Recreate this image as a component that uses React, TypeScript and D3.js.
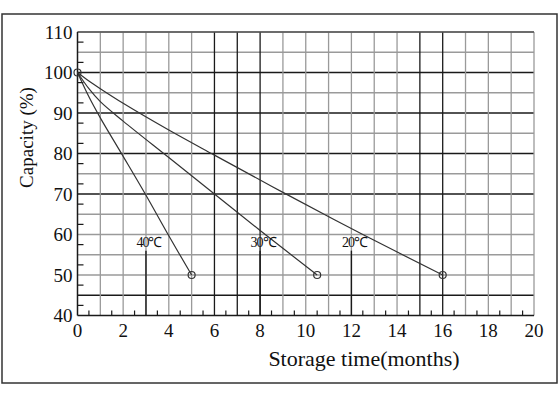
import React from "react";
import * as d3 from "d3";

const monthTicks = [0, 2, 4, 6, 8, 10, 12, 14, 16, 18, 20];
const capacityTicks = [40, 50, 60, 70, 80, 90, 100, 110];

const series40: [number, number][] = [[0, 100], [0.5, 94], [1, 88.8], [2, 79.3], [3, 69.7], [4, 59.7], [5, 50]];
const series30: [number, number][] = [[0, 100], [0.5, 96], [1, 92.8], [2, 88], [4, 79], [6, 70], [8, 61], [10.5, 50]];
const series20: [number, number][] = [[0, 100], [0.5, 97.9], [1, 96], [2, 92.4], [4, 85.8], [6, 79.6], [9, 70.4], [12.5, 60], [16, 50]];

const seriesNames = ["40℃", "30℃", "20℃"];
const labelMonths = [3, 8, 12];
const labelCapacity = [57, 57, 57];

const darkVertical = [6, 7, 8, 15, 16];
const darkHorizontal = [45, 70, 80, 90, 100];

export default function App() {
  const W = 560, H = 399;
  const left = 77.5, right = 534, top = 32, bottom = 315.5;
  const x = d3.scaleLinear().domain([0, 20]).range([left, right]);
  const y = d3.scaleLinear().domain([40, 110]).range([bottom, top]);
  const line = d3.line<[number, number]>().x(d => x(d[0])).y(d => y(d[1])).curve(d3.curveCatmullRom.alpha(0.5));
  const all = [series40, series30, series20];
  const serif = "'Liberation Serif', 'Times New Roman', serif";
  const gray = "#9a9a9a";
  const dark = "#1a1a1a";

  const vLines = d3.range(1, 21);
  const hLines = d3.range(45, 111, 5);
  const xMinor = d3.range(0.5, 20, 1);
  const yMinor = d3.range(42.5, 110, 5);

  return (
    <svg width={W} height={H} style={{ position: "absolute", left: 0, top: 0, background: "#fff" }}>
      <rect x={2} y={14} width={555} height={369} fill="none" stroke="#333" strokeWidth={1.5} />
      {hLines.map(v => (
        <line key={"h" + v} x1={left} x2={right} y1={y(v)} y2={y(v)}
          stroke={darkHorizontal.includes(v) ? dark : gray} strokeWidth={1.3} />
      ))}
      {vLines.map(v => (
        <line key={"v" + v} x1={x(v)} x2={x(v)} y1={top} y2={bottom}
          stroke={darkVertical.includes(v) ? dark : gray} strokeWidth={1.3} />
      ))}
      <line x1={left} x2={right} y1={top} y2={top} stroke="#555" strokeWidth={1.5} />
      {labelMonths.map((m, i) => (
        <line key={"lm" + i} x1={x(m)} x2={x(m)} y1={y(labelCapacity[i]) + 4} y2={bottom} stroke={dark} strokeWidth={1.4} />
      ))}
      <line x1={left} x2={left} y1={top} y2={bottom} stroke={dark} strokeWidth={1.5} />
      <line x1={left} x2={right} y1={bottom} y2={bottom} stroke={dark} strokeWidth={1.5} />
      {xMinor.map(v => (
        <line key={"xm" + v} x1={x(v)} x2={x(v)} y1={bottom} y2={bottom - 5} stroke={dark} strokeWidth={1.2} />
      ))}
      {yMinor.map(v => (
        <line key={"ym" + v} x1={left} x2={left + 6} y1={y(v)} y2={y(v)} stroke={dark} strokeWidth={1.2} />
      ))}
      {all.map((s, i) => (
        <path key={"s" + i} d={line(s) || ""} fill="none" stroke="#333" strokeWidth={1.2} />
      ))}
      {all.map((s, i) => (
        <circle key={"c" + i} cx={x(s[s.length - 1][0])} cy={y(s[s.length - 1][1])} r={3.5} fill="none" stroke="#333" strokeWidth={1.2} />
      ))}
      <circle cx={x(0)} cy={y(100)} r={3.5} fill="none" stroke="#333" strokeWidth={1.2} />
      {seriesNames.map((n, i) => (
        <text key={"n" + i} x={x(labelMonths[i]) + 3} y={y(labelCapacity[i])} textAnchor="middle"
          fontFamily={serif} fontSize={14} fill="#111" letterSpacing={-1}>{n}</text>
      ))}
      {capacityTicks.map(v => (
        <text key={"yt" + v} x={left - 5} y={y(v)} dy="0.35em" textAnchor="end" fontFamily={serif} fontSize={19} fill="#111">{v}</text>
      ))}
      {monthTicks.map(v => (
        <text key={"xt" + v} x={x(v)} y={337} textAnchor="middle" fontFamily={serif} fontSize={19} fill="#111">{v}</text>
      ))}
      <text x={364} y={366} textAnchor="middle" fontFamily={serif} fontSize={22} fill="#111">Storage time(months)</text>
      <text transform={`translate(33,137.5) rotate(-90)`} textAnchor="middle" fontFamily={serif} fontSize={19} fill="#111">Capacity (%)</text>
    </svg>
  );
}
